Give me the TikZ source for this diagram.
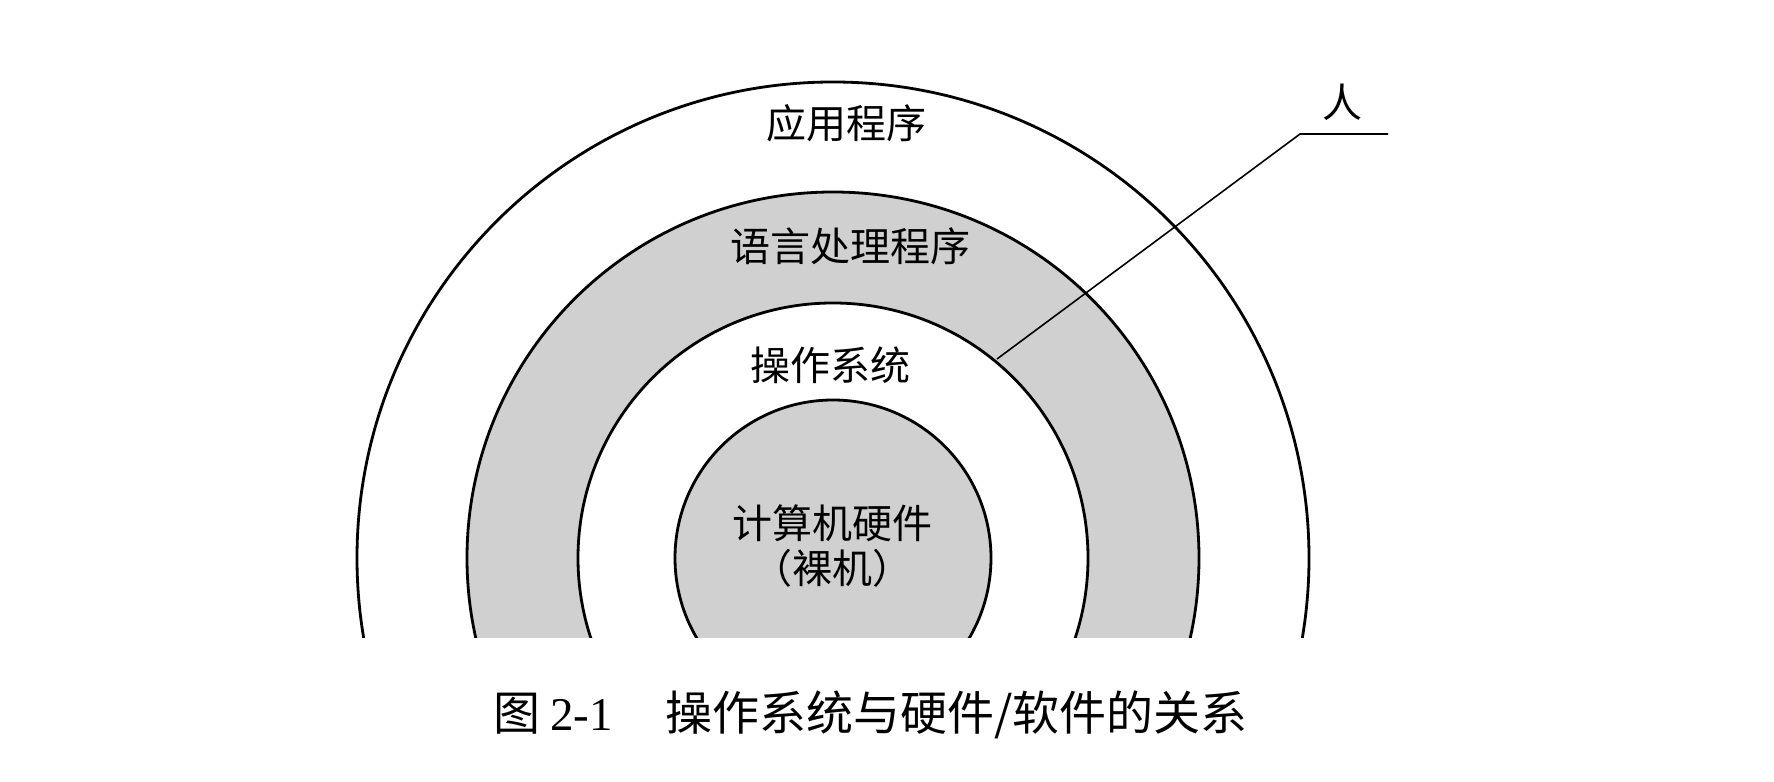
\documentclass[tikz,border=0pt]{standalone}
\usepackage{fontspec}
\setmainfont{Liberation Serif}
\newfontfamily\cjk{Noto Sans CJK SC}
\definecolor{ringgray}{HTML}{D0D0D0}
\begin{document}
\begin{tikzpicture}[x=0.5pt, y=0.5pt, every node/.style={inner sep=0pt, font=\cjk\fontsize{20pt}{24pt}\selectfont}, layerline/.style={line width=1.4pt}, pointer/.style={line width=0.8pt} ]
		\useasboundingbox (0,0) rectangle (1774,782);
		\coordinate (O) at (833,224);
		\begin{scope}
			\clip (0,144) rectangle (1774,782);
			\fill[ringgray] (O) circle[radius=366];
			\fill[white] (O) circle[radius=255];
			\fill[ringgray] (O) circle[radius=158];
			\foreach \r in {476, 366, 255, 158}
				\draw[layerline] (O) circle[radius=\r];
		\end{scope}
		\node (app) at (846,659) {应用程序};
		\node (lang) at (850,536) {语言处理程序};
		\node (os) at (830,417) {操作系统};
		\node (hw) at (832,259) {计算机硬件};
		\node (bare) at (832,214) {（裸机）};
		\coordinate (hook) at (997,423);
		\coordinate (bend) at (1300,648);
		\coordinate (tail) at (1388,648);
		\draw[pointer] (hook) -- (bend) -- (tail);
		\node (human) at (1342,680) {人};
		\node[anchor=west, font=\fontsize{23.5pt}{27pt}\selectfont] (caption) at (493,67) {{\cjk 图}\hspace{5pt}2-1\hspace{26pt}{\cjk 操作系统与硬件/软件的关系}};
	\end{tikzpicture}
\end{document}
